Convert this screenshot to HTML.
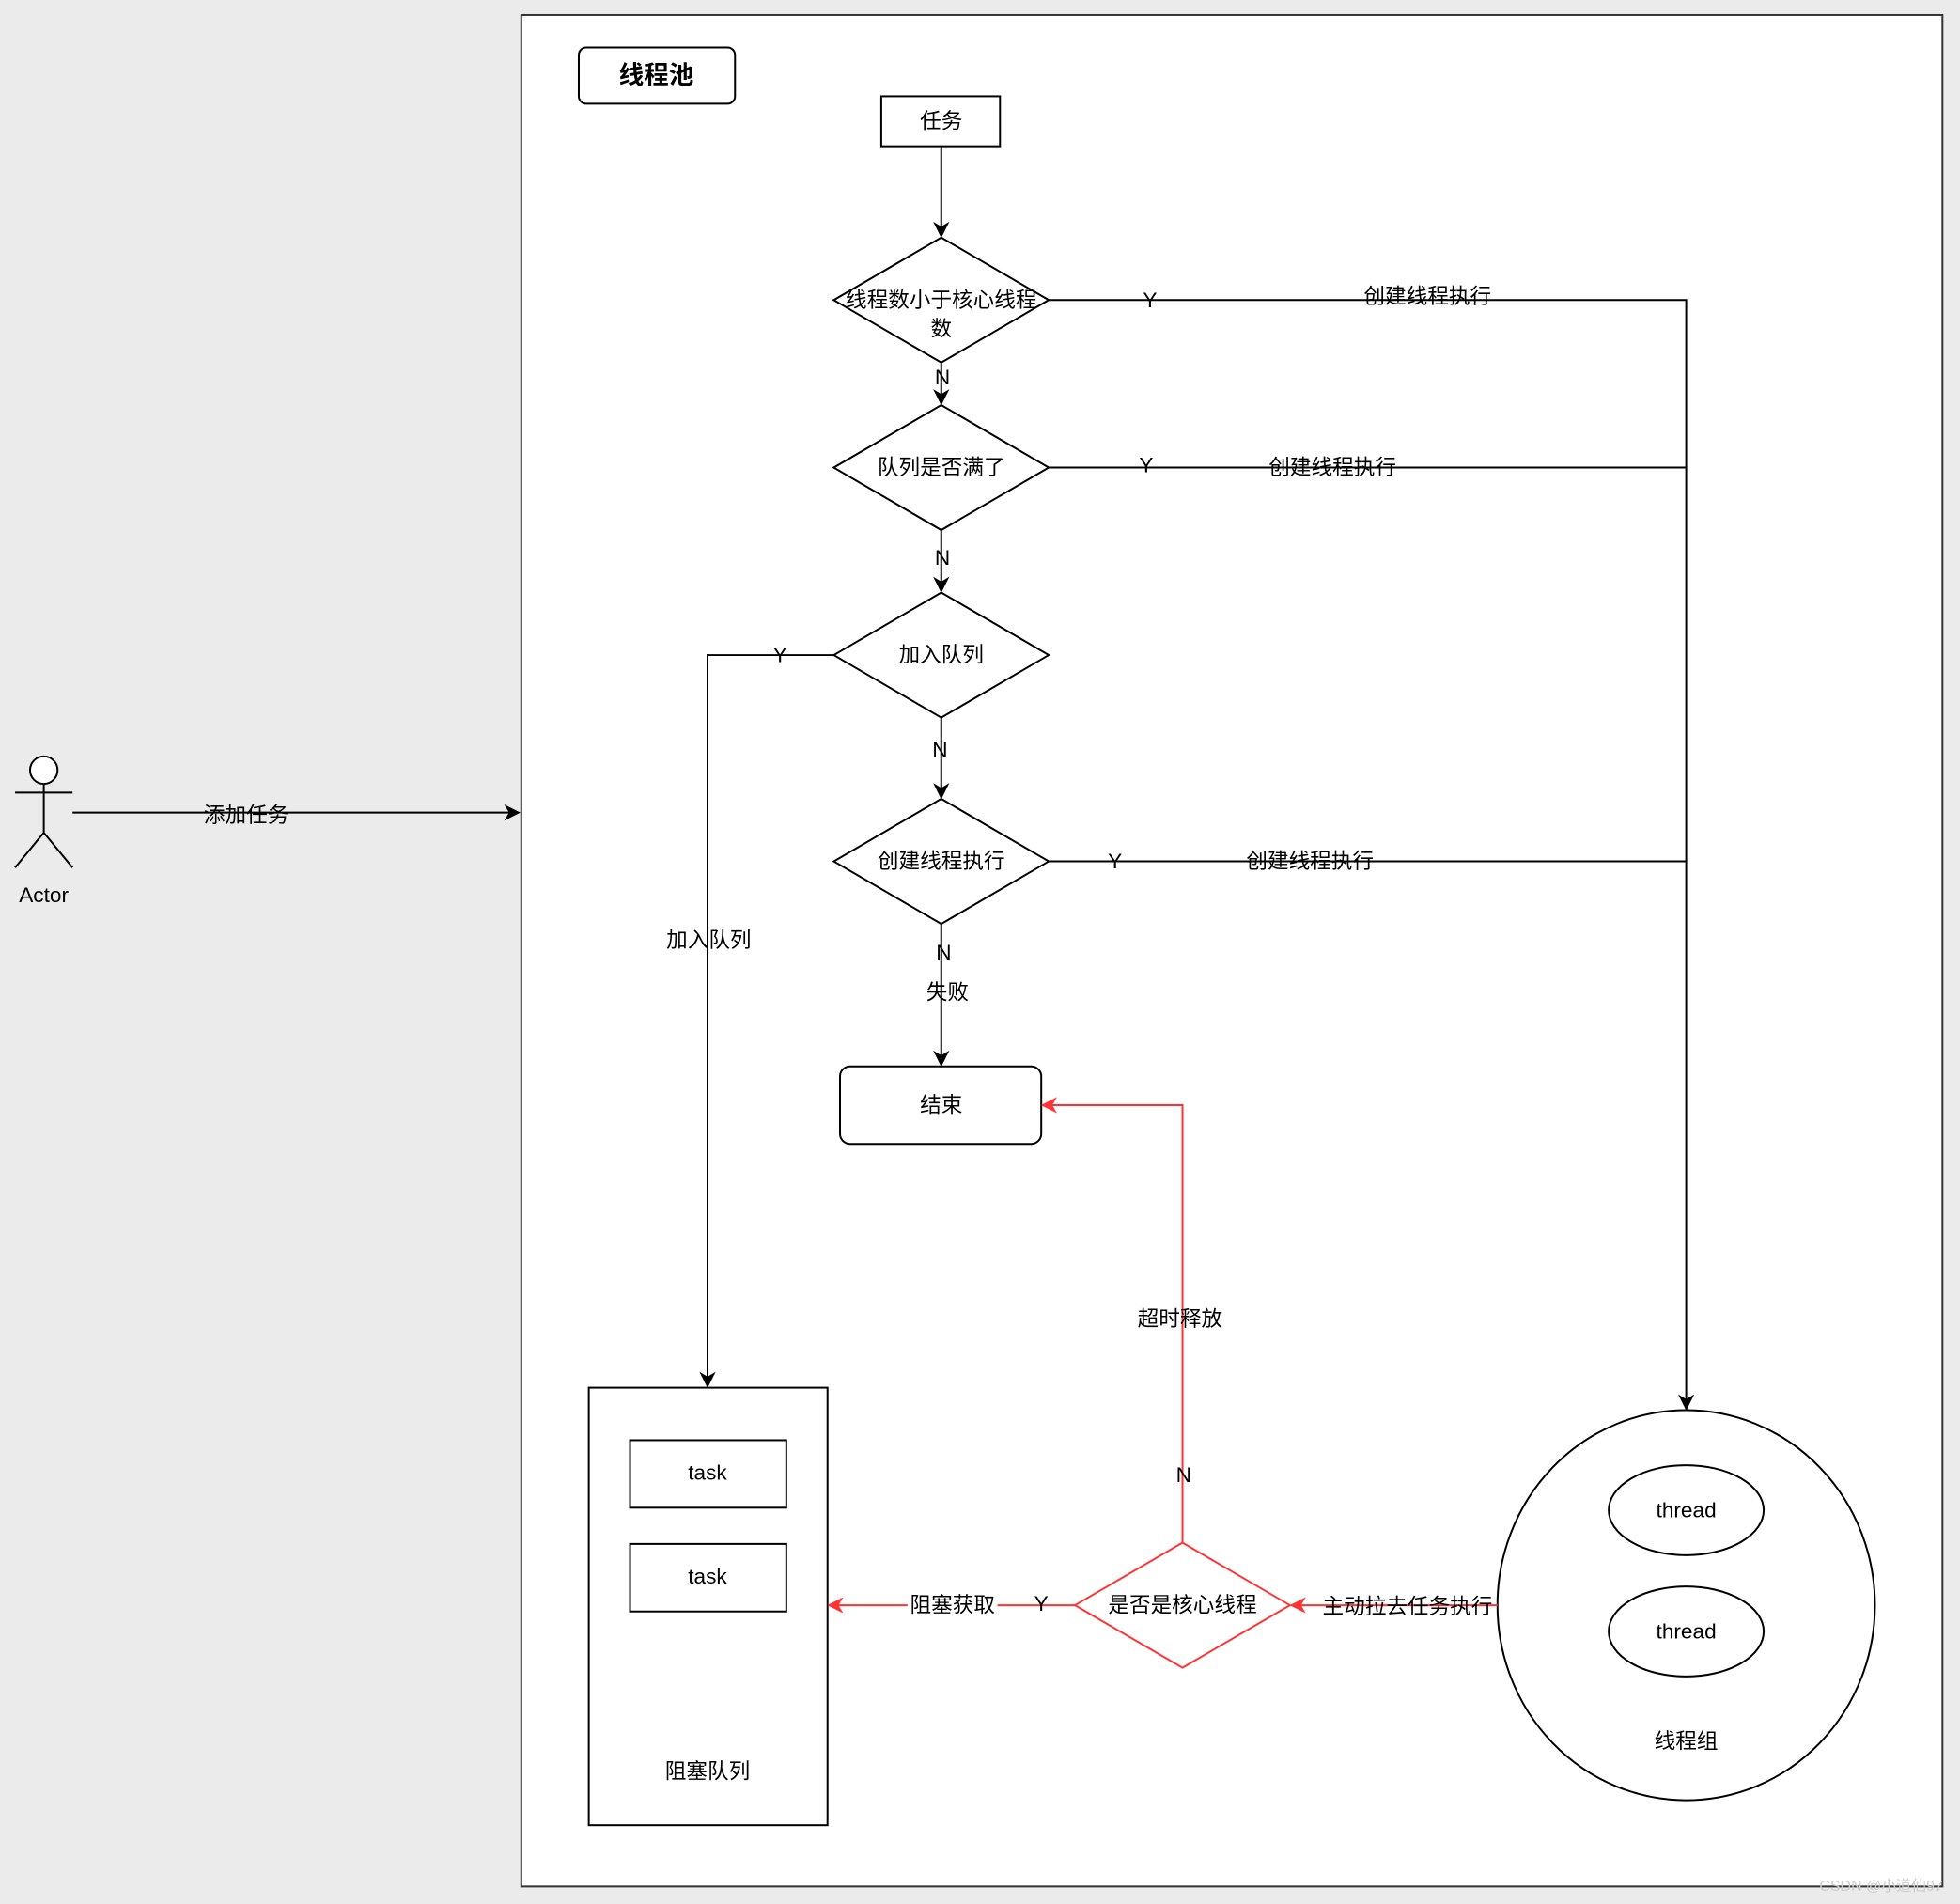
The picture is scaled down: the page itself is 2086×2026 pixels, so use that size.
<!DOCTYPE html>
<html><head><meta charset="utf-8"><style>html,body{margin:0;padding:0;background:#ebebeb}svg{display:block}
text{font-family:"Liberation Sans","Noto Sans CJK SC",sans-serif;font-size:17px;text-anchor:middle;dominant-baseline:central;fill:#000}</style></head>
<body>
<svg width="2086" height="2026" viewBox="0 0 1568 1523" xmlns="http://www.w3.org/2000/svg">
<defs>
<marker id="a" viewBox="0 0 10 10" refX="9" refY="5" markerWidth="13" markerHeight="13" orient="auto" markerUnits="userSpaceOnUse"><path d="M0,0 L10,5 L0,10 L3,5z" fill="#000"/></marker>
<marker id="r" viewBox="0 0 10 10" refX="9" refY="5" markerWidth="13" markerHeight="13" orient="auto" markerUnits="userSpaceOnUse"><path d="M0,0 L10,5 L0,10 L3,5z" fill="#f33"/></marker>
</defs>
<rect x="0" y="0" width="1568" height="1523" fill="#ebebeb"/>
<rect x="417" y="12" width="1137" height="1497" fill="#fff" stroke="#333" stroke-width="1.5"/>
<rect x="463" y="38" width="125" height="45" rx="6" fill="#fff" stroke="#000" stroke-width="1.5"/>
<text x="525" y="60" style="font-weight:bold;font-size:20px">线程池</text>
<g fill="#fff" stroke="#000" stroke-width="1.5">
<rect x="705" y="77" width="95" height="40"/>
<path d="M667,240 L753,190 L839,240 L753,290Z"/>
<path d="M667,374 L753,324 L839,374 L753,424Z"/>
<path d="M667,524 L753,474 L839,524 L753,574Z"/>
<path d="M667,689 L753,639 L839,689 L753,739Z"/>
<rect x="672" y="853" width="161" height="62" rx="8"/>
<rect x="471" y="1110" width="191" height="350"/>
<rect x="504" y="1152" width="125" height="54"/>
<rect x="504" y="1235" width="125" height="54"/>
<ellipse cx="1349" cy="1284" rx="151" ry="156"/>
<ellipse cx="1349" cy="1208" rx="62" ry="36"/>
<ellipse cx="1349" cy="1305" rx="62" ry="36"/>
<circle cx="35" cy="616" r="11"/>
</g>
<g stroke="#000" stroke-width="1.5" fill="none">
<path d="M35,627 V666 M12,634 H58 M35,666 L12,694 M35,666 L58,694"/>
<path d="M753,117 V189" marker-end="url(#a)"/>
<path d="M753,290 V323" marker-end="url(#a)"/>
<path d="M753,424 V473" marker-end="url(#a)"/>
<path d="M753,574 V638" marker-end="url(#a)"/>
<path d="M753,739 V852" marker-end="url(#a)"/>
<path d="M839,240 H1349 V1127" marker-end="url(#a)"/>
<path d="M839,374 H1349"/>
<path d="M839,689 H1349"/>
<path d="M667,524 H566 V1109" marker-end="url(#a)"/>
<path d="M58,650 H415" marker-end="url(#a)"/>
</g>
<g stroke="#f33" stroke-width="1.5" fill="none">
<path d="M860,1284 L946,1234 L1032,1284 L946,1334Z" fill="#fff"/>
<path d="M1198,1284 H1033" marker-end="url(#r)"/>
<path d="M860,1284 H663" marker-end="url(#r)"/>
<path d="M946,1234 V884 H834" marker-end="url(#r)"/>
</g>
<text x="753" y="97">任务</text>
<text x="753" y="240">线程数小于核心线程</text>
<text x="753" y="263">数</text>
<text x="753" y="374">队列是否满了</text>
<text x="753" y="524">加入队列</text>
<text x="753" y="689">创建线程执行</text>
<text x="753" y="884">结束</text>
<text x="920" y="240">Y</text><text x="1142" y="237">创建线程执行</text>
<text x="917" y="372">Y</text><text x="1066" y="374">创建线程执行</text>
<text x="892" y="689">Y</text><text x="1048" y="689">创建线程执行</text>
<text x="624" y="524">Y</text><text x="567" y="752">加入队列</text>
<text x="754" y="302">N</text><text x="754" y="446">N</text>
<text x="752" y="600">N</text><text x="755" y="762">N</text>
<text x="758" y="794">失败</text>
<text x="35" y="716">Actor</text>
<text x="197" y="652">添加任务</text>
<text x="566" y="1178">task</text><text x="566" y="1261">task</text>
<text x="566" y="1417">阻塞队列</text>
<text x="1349" y="1208">thread</text><text x="1349" y="1305">thread</text>
<text x="1349" y="1393">线程组</text>
<text x="946" y="1284">是否是核心线程</text>
<rect x="726" y="1273" width="72" height="22" fill="#fff"/>
<text x="762" y="1284">阻塞获取</text><text x="833" y="1283">Y</text>
<text x="1126" y="1285">主动拉去任务执行</text>
<text x="947" y="1180">N</text><text x="944" y="1055">超时释放</text>
<text x="1505" y="1509" style="font-size:12px;fill:#ccc">CSDN @小道仙97</text>
</svg>
</body></html>
